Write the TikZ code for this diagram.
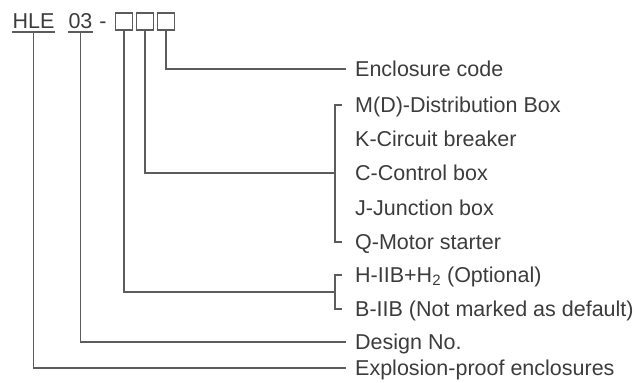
\documentclass[tikz,border=0pt]{standalone}
\usepackage{fontspec}
\setmainfont{Liberation Sans}
\usepackage{tikz}
\usetikzlibrary{positioning,calc}
\definecolor{LeadGray}{HTML}{5C5C5C}
\definecolor{InkGray}{HTML}{3C3C3C}

\begin{document}
\begin{tikzpicture}[x=1pt,y=-1pt,
  every node/.style={font=\fontsize{21.5}{24}\selectfont,text=InkGray},
  lbl/.style={anchor=west,inner xsep=9pt,inner ysep=0pt,text height=15pt,text depth=0pt},
  codebox/.style={draw=LeadGray,line width=1.4pt,minimum size=17pt,inner sep=0pt},
  lead/.style={draw=LeadGray,line width=1.4pt}]
\useasboundingbox (0,0) rectangle (638,383);
% model code
\node[anchor=base,inner sep=0pt] (hle) at (33.5,28) {HLE};
\node[anchor=base,inner sep=0pt] (dn) at (80.5,28) {03};
\node[anchor=base,inner sep=0pt] (sep) at (103,28) {-};
\node[codebox] (b1) at (124,21.5) {};
\node[codebox] (b2) at (145,21.5) {};
\node[codebox] (b3) at (166,21.5) {};
\draw[lead] ([yshift=-4pt]hle.base west) -- ([yshift=-4pt]hle.base east);
\draw[lead] ([yshift=-4pt]dn.base west) -- ([yshift=-4pt]dn.base east);
% meanings
\node[lbl] (enc) at (346,69) {Enclosure code};
\node[lbl] (mdb) at (346,105) {M(D)-Distribution Box};
\node[lbl] (kcb) at (346,139) {K-Circuit breaker};
\node[lbl] (ccb) at (346,173) {C-Control box};
\node[lbl] (jjb) at (346,208) {J-Junction box};
\node[lbl] (qms) at (346,242) {Q-Motor starter};
\node[lbl] (hib) at (346,275) {H-IIB+H\textsubscript{2} (Optional)};
\node[lbl] (bib) at (346,309) {B-IIB (Not marked as default)};
\node[lbl] (dno) at (346,342) {Design No.};
\node[lbl] (epe) at (346,368) {Explosion-proof enclosures};
\coordinate (brkA) at (335,173);
\coordinate (brkB) at (335,292);
% leads
\draw[lead] (b3.south) |- (enc.west);
\draw[lead] ([xshift=-4pt]mdb.west) -| (brkA) |- ([xshift=-4pt]qms.west);
\draw[lead] (b2.south) |- (brkA);
\draw[lead] ([xshift=-4pt]hib.west) -| (brkB) |- ([xshift=-4pt]bib.west);
\draw[lead] (b1.south) |- (brkB);
\draw[lead] ([yshift=-4pt]dn.base) |- (dno.west);
\draw[lead] ([yshift=-4pt]hle.base) |- (epe.west);
\end{tikzpicture}
\end{document}
